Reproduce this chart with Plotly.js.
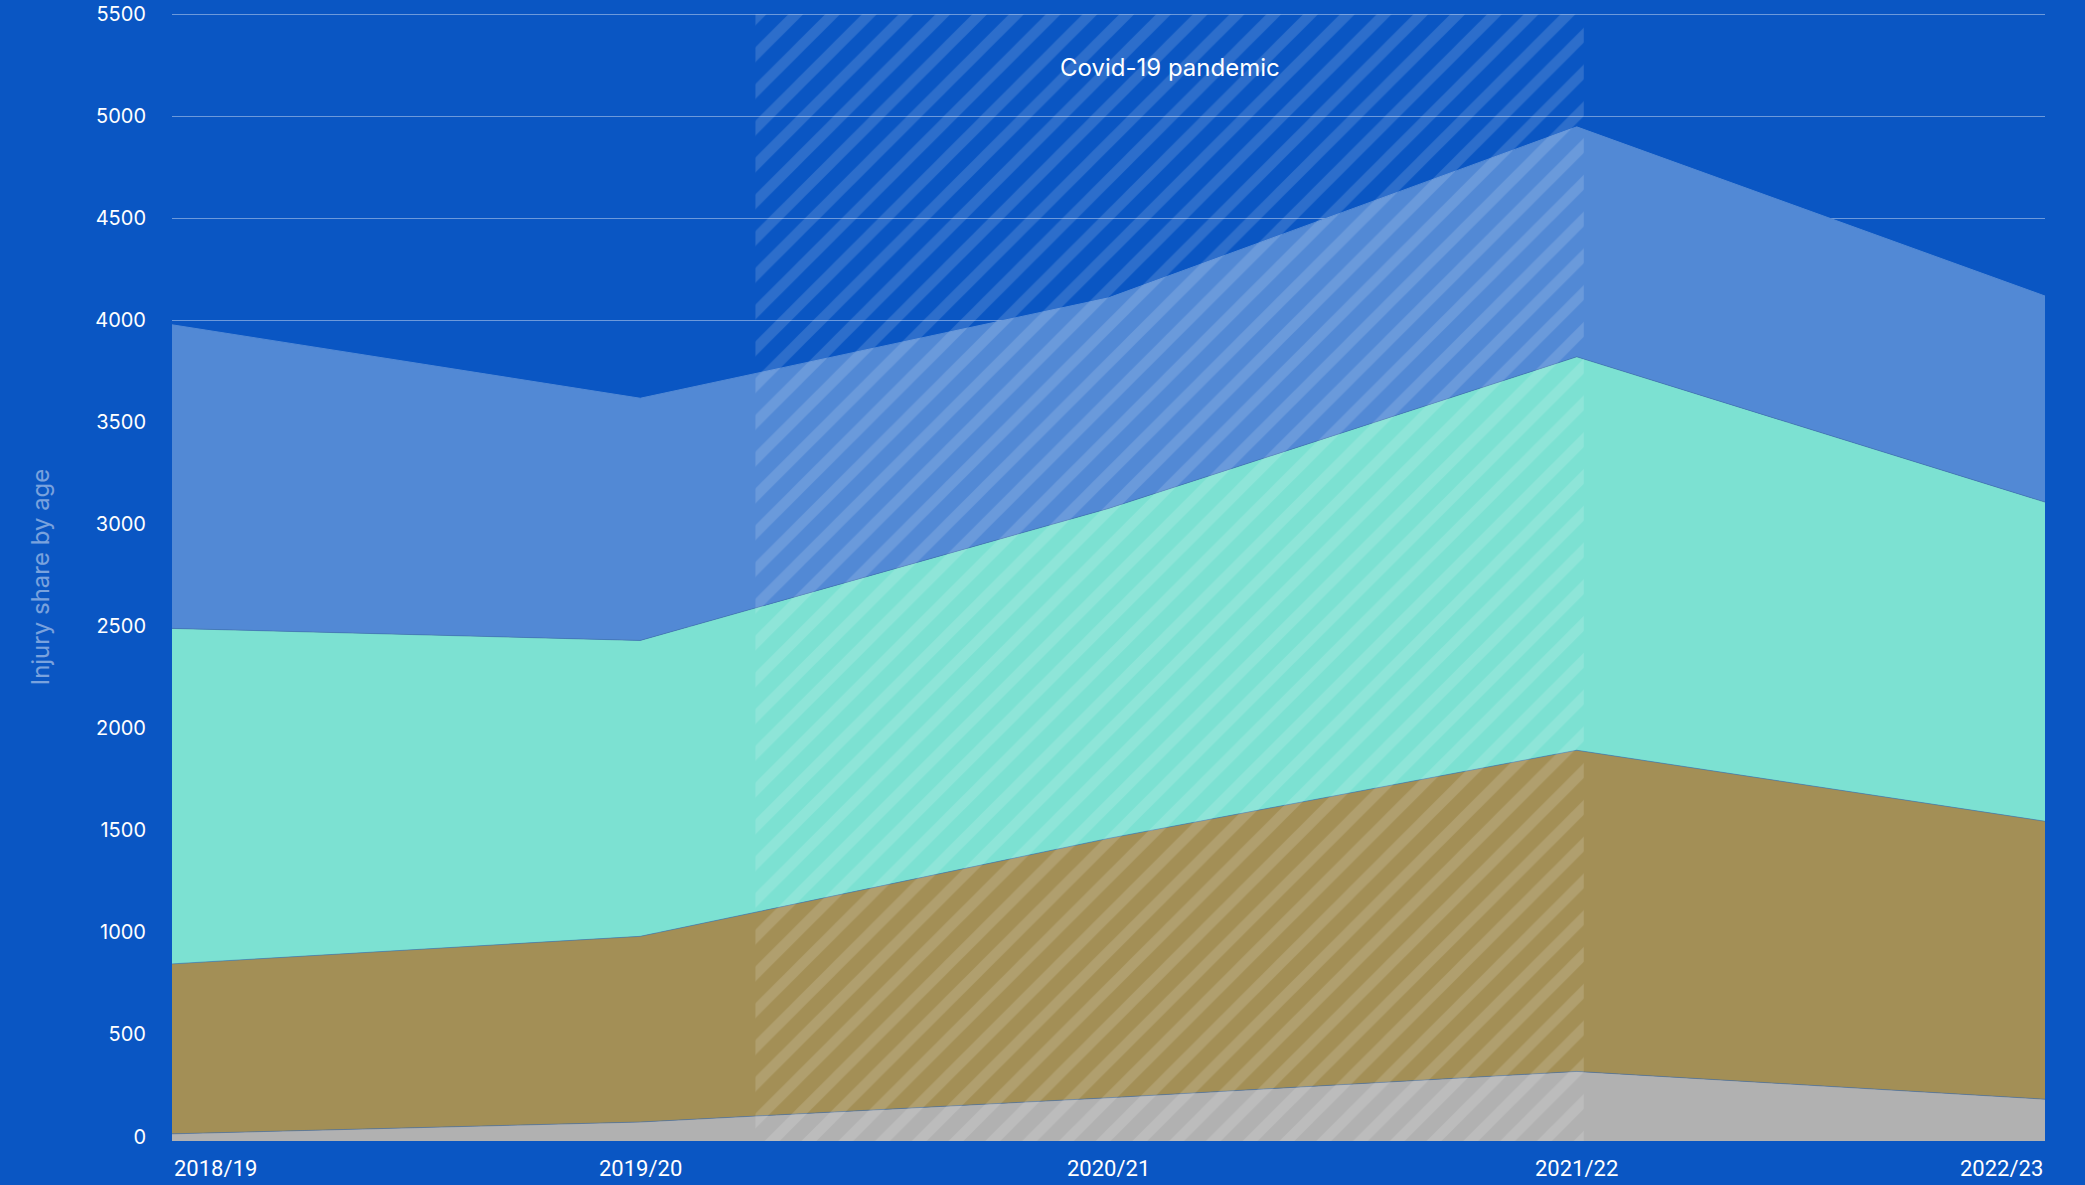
<!DOCTYPE html>
<html>
<head>
<meta charset="utf-8">
<script src="https://cdn.plot.ly/plotly-3.0.1.min.js"></script>
<style>
  html, body { margin: 0; padding: 0; background: #0a56c3; }
  #chart { width: 2085px; height: 1185px; }
</style>
</head>
<body>
<div id="chart"></div>
<script>
// ---- data ----
const categories = ['2018/19', '2019/20', '2020/21', '2021/22', '2022/23'];
const seriesNames = ['Age group 1', 'Age group 2', 'Age group 3', 'Age group 4'];
const group1 = [13, 71, 190, 319, 183];
const group2 = [833, 910, 1271, 1574, 1362];
const group3 = [1644, 1450, 1617, 1928, 1564];
const group4 = [1488, 1187, 1032, 1127, 1010];
const yTickValues = [0, 500, 1000, 1500, 2000, 2500, 3000, 3500, 4000, 4500, 5000, 5500];
const yTitle = 'Injury share by age';
const covidLabel = 'Covid-19 pandemic';
const covidStart = 1.246;   // position on the year axis
const covidEnd = 3.015;
const covidTop = 5500;
const yMin = -22;
const yMax = 5506;

// ---- styles ----
const colors = ['#b1b1b1', '#a38f56', '#7ce1d2', '#5289d5'];
const bg = '#0a56c3';
const font = 'Inter, "Noto Sans", Roboto, sans-serif';
const xFont = 'Roboto, Inter, sans-serif';

const xs = categories.map((c, i) => i);
const series = [group1, group2, group3, group4];

const traces = [];
// floor of the stack at the axis bottom
traces.push({
  x: xs, y: xs.map(() => yMin), mode: 'lines', line: {width: 0},
  hoverinfo: 'skip', showlegend: false
});
let cum = xs.map(() => 0);
series.forEach((s, k) => {
  cum = cum.map((v, i) => v + s[i]);
  traces.push({
    x: xs, y: cum.slice(), name: seriesNames[k], mode: 'lines',
    fill: 'tonexty', fillcolor: colors[k],
    line: {width: 1, color: k === 3 ? colors[3] : 'rgba(70,110,160,0.55)'},
    customdata: s, hovertemplate: '%{customdata}<extra>' + seriesNames[k] + '</extra>',
    showlegend: false
  });
});
// covid hatched span
traces.push({
  x: [covidStart, covidEnd, covidEnd, covidStart, covidStart],
  y: [yMin, yMin, covidTop, covidTop, yMin],
  mode: 'none', fill: 'toself', fillcolor: 'rgba(0,0,0,0)',
  fillpattern: {shape: '/', size: 26, solidity: 0.4, fgcolor: 'rgba(255,255,255,0.14)', bgcolor: 'rgba(0,0,0,0)', fgopacity: 1},
  hoverinfo: 'skip', showlegend: false
});

const annotations = categories.map((c, i) => ({
  x: i, y: 0, xref: 'x', yref: 'paper', yanchor: 'top', yshift: -13,
  xanchor: i === 0 ? 'left' : (i === categories.length - 1 ? 'right' : 'center'),
  text: c, showarrow: false, font: {family: xFont, size: 22, color: '#ffffff'}
}));
annotations.push({
  x: (covidStart + covidEnd) / 2, y: 1, xref: 'x', yref: 'paper',
  yanchor: 'top', yshift: -38, xanchor: 'center',
  text: covidLabel, showarrow: false, font: {family: font, size: 24, color: '#ffffff'}
});

const layout = {
  width: 2085, height: 1185,
  margin: {l: 172, r: 40, t: 13, b: 44},
  paper_bgcolor: bg, plot_bgcolor: bg,
  showlegend: false,
  font: {family: font, color: '#ffffff'},
  xaxis: {
    range: [0, categories.length - 1], showgrid: false, zeroline: false,
    showticklabels: false, ticks: '', showline: false, fixedrange: true
  },
  yaxis: {
    range: [yMin, yMax], tickvals: yTickValues, ticks: '',
    showgrid: true, gridcolor: 'rgba(255,255,255,0.4)', gridwidth: 1,
    zeroline: false, showline: false, ticklabelstandoff: 25,
    tickfont: {family: font, size: 20, color: '#ffffff'},
    title: {text: yTitle, standoff: 38, font: {family: font, size: 24, color: 'rgba(255,255,255,0.45)'}},
    fixedrange: true
  },
  annotations: annotations
};

Plotly.newPlot('chart', traces, layout, {displayModeBar: false, staticPlot: true});
</script>
</body>
</html>
